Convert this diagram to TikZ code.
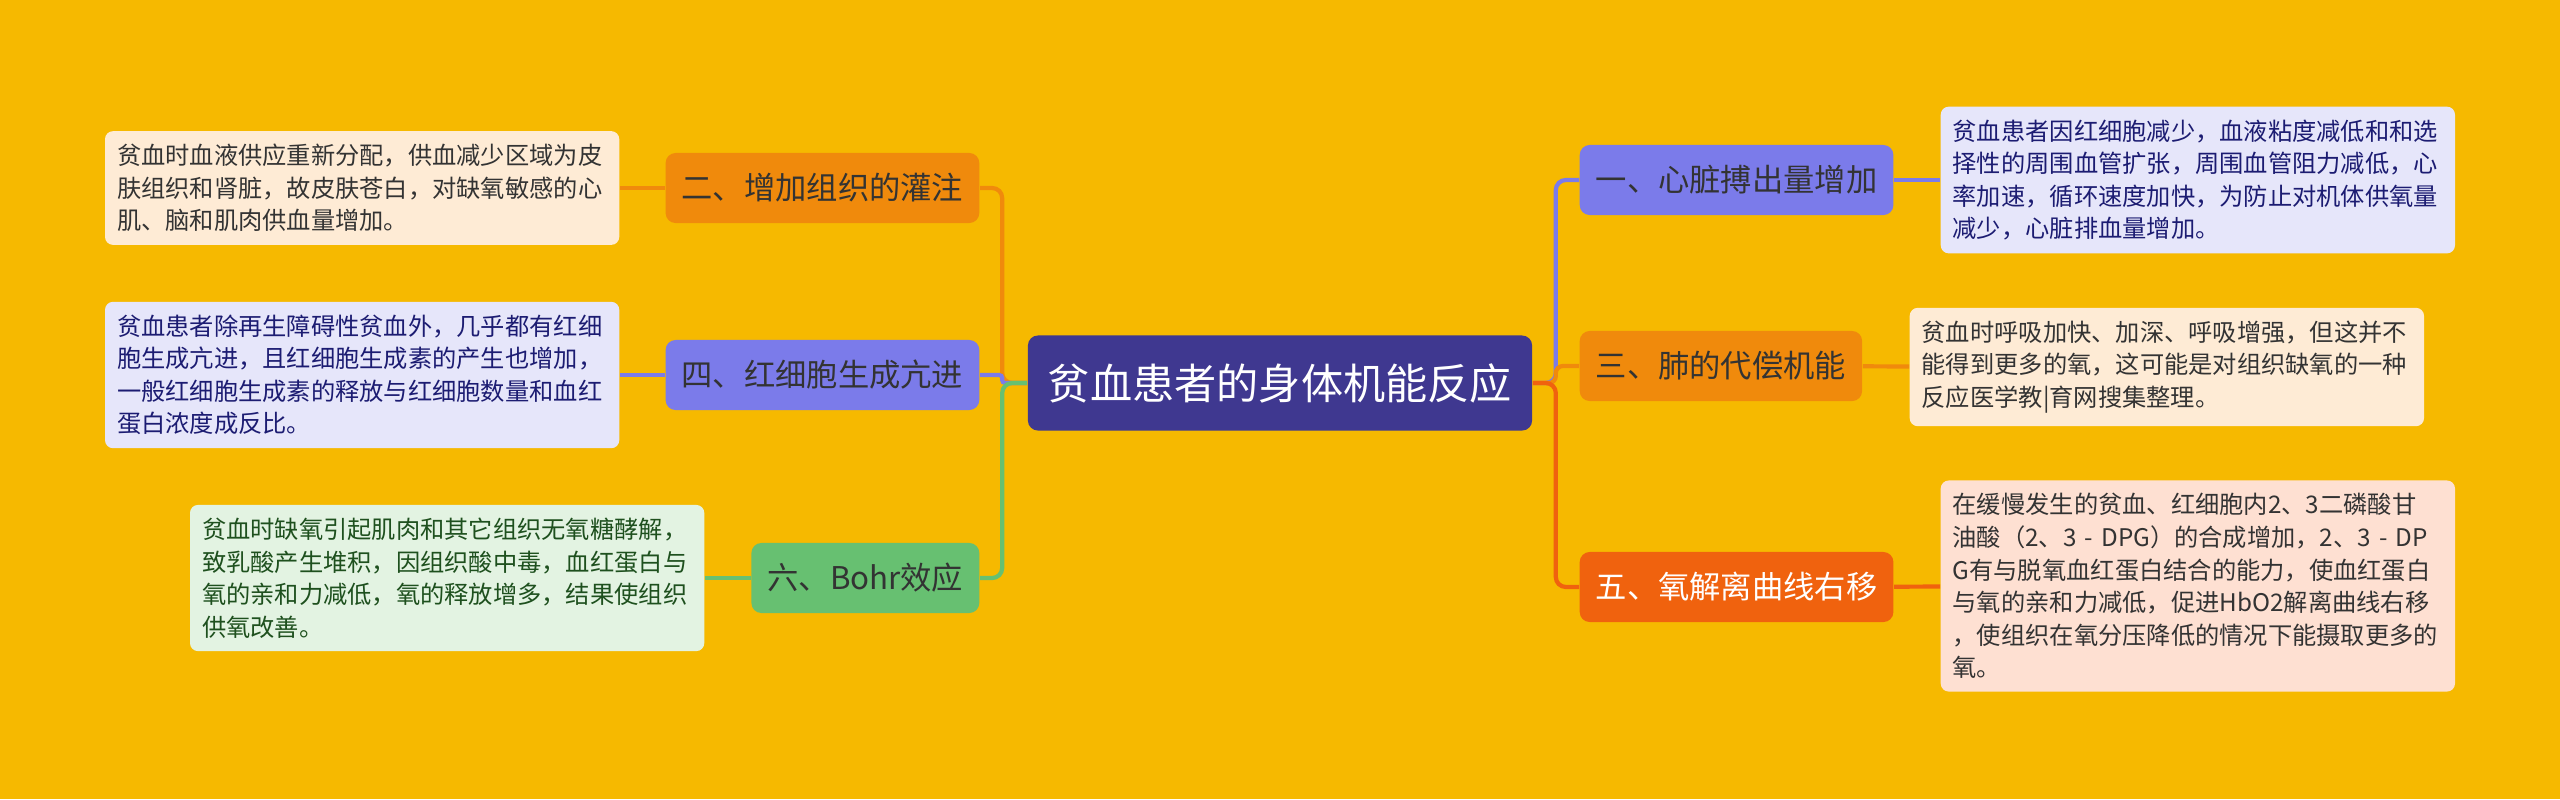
\documentclass[tikz,border=0pt]{standalone}
\usepackage{fontspec}
\newfontfamily\cjk{Noto Sans CJK SC}
\usepackage{xcolor}
\usetikzlibrary{positioning}

\definecolor{bgyellow}{HTML}{F6B900}
\definecolor{rootblue}{HTML}{3F3890}
\definecolor{orangeb}{HTML}{F08A0C}
\definecolor{purpleb}{HTML}{7B7BEA}
\definecolor{greenb}{HTML}{67C071}
\definecolor{redb}{HTML}{F0620E}
\definecolor{creambox}{HTML}{FEEBD5}
\definecolor{lavbox}{HTML}{E6E6FA}
\definecolor{mintbox}{HTML}{E3F3E2}
\definecolor{peachbox}{HTML}{FEE0D2}
\definecolor{textdark}{HTML}{333333}
\definecolor{navytext}{HTML}{1C1C72}
\definecolor{greentext}{HTML}{1E501E}

\begin{document}
\begin{tikzpicture}[x=0.01cm, y=-0.01cm,
    rootbox/.style={fill=rootblue, text=white, rounded corners=0.1cm, minimum height=0.95cm, inner xsep=0.2cm, font=\cjk\fontsize{12}{14}\selectfont},
    branch/.style={rounded corners=0.1cm, minimum height=0.7cm, inner xsep=0.16cm, text=textdark, font=\cjk\fontsize{8.9}{10}\selectfont},
    detail/.style={rounded corners=0.08cm, text width=4.9cm, inner xsep=0.12cm, inner ysep=0.13cm, align=left, font=\cjk\fontsize{6.9}{9.25}\selectfont},
    link/.style={line width=1.2pt}]

        \fill[bgyellow] (0,0) rectangle (2560,799);

        \node[rootbox] (root) at (1280,383) {贫血患者的身体机能反应};

        % Left branches
        \node[branch, fill=orangeb, anchor=east] (b2) at (980,188) {二、增加组织的灌注};
        \node[branch, fill=purpleb, anchor=east] (b4) at (980,375) {四、红细胞生成亢进};
        \node[branch, fill=greenb, anchor=east] (b6) at (980,578) {六、Bohr效应};

        % Right branches
        \node[branch, fill=purpleb, anchor=west] (b1) at (1579,180) {一、心脏搏出量增加};
        \node[branch, fill=orangeb, anchor=west] (b3) at (1579,366) {三、肺的代偿机能};
        \node[branch, fill=redb, text=white, anchor=west] (b5) at (1579,587) {五、氧解离曲线右移};

        % Explanations
        \node[detail, fill=creambox, text=textdark, anchor=east] (d2) at (620,188) {贫血时血液供应重新分配，供血减少区域为皮\\肤组织和肾脏，故皮肤苍白，对缺氧敏感的心\\肌、脑和肌肉供血量增加。};
        \node[detail, fill=lavbox, text=navytext, anchor=east] (d4) at (620,375) {贫血患者除再生障碍性贫血外，几乎都有红细\\胞生成亢进，且红细胞生成素的产生也增加，\\一般红细胞生成素的释放与红细胞数量和血红\\蛋白浓度成反比。};
        \node[detail, fill=mintbox, text=greentext, anchor=east] (d6) at (705,578) {贫血时缺氧引起肌肉和其它组织无氧糖酵解，\\致乳酸产生堆积，因组织酸中毒，血红蛋白与\\氧的亲和力减低，氧的释放增多，结果使组织\\供氧改善。};
        \node[detail, fill=lavbox, text=navytext, anchor=west] (d1) at (1940,180) {贫血患者因红细胞减少，血液粘度减低和和选\\择性的周围血管扩张，周围血管阻力减低，心\\率加速，循环速度加快，为防止对机体供氧量\\减少，心脏排血量增加。};
        \node[detail, fill=creambox, text=textdark, anchor=west] (d3) at (1909,367) {贫血时呼吸加快、加深、呼吸增强，但这并不\\能得到更多的氧，这可能是对组织缺氧的一种\\反应医学教|育网搜集整理。};
        \node[detail, fill=peachbox, text=textdark, anchor=west] (d5) at (1940,586) {在缓慢发生的贫血、红细胞内2、3二磷酸甘\\油酸（2、3 - DPG）的合成增加，2、3 - DP\\G有与脱氧血红蛋白结合的能力，使血红蛋白\\与氧的亲和力减低，促进HbO2解离曲线右移\\，使组织在氧分压降低的情况下能摄取更多的\\氧。};

        % Trunk connectors
        \foreach \b/\c/\r in {b2/orangeb/0.1cm, b4/purpleb/0.03cm, b6/greenb/0.1cm} {
          \draw[link, \c, rounded corners=\r] (root.west) -- ++(-25,0) |- (\b);
        }
        \foreach \b/\c/\r in {b1/purpleb/0.1cm, b3/orangeb/0.07cm, b5/redb/0.1cm} {
          \draw[link, \c, rounded corners=\r] (root.east) -- ++(23,0) |- (\b);
        }

        % Branch to explanation
        \foreach \b/\d/\c in {b2/d2/orangeb, b4/d4/purpleb, b6/d6/greenb, b1/d1/purpleb, b3/d3/orangeb, b5/d5/redb} {
          \draw[link, \c] (\b) -- (\d);
        }
\end{tikzpicture}
\end{document}
